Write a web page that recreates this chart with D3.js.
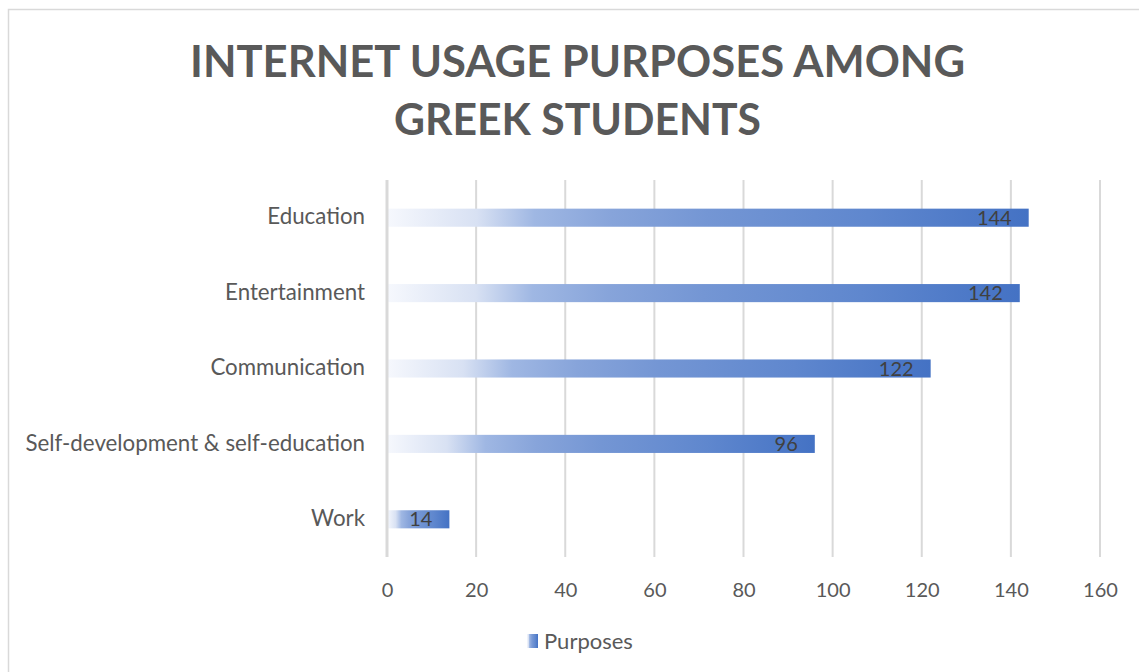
<!DOCTYPE html>
<html>
<head>
<meta charset="utf-8">
<script src="https://cdn.jsdelivr.net/npm/d3@7"></script>
<style>
  html, body { margin: 0; padding: 0; background: #fff; }
  svg { display: block; font-family: Lato, "Open Sans", sans-serif; }
</style>
</head>
<body>
<svg id="chart" width="1139" height="672"></svg>
<script>
// Chart data
const categories = ["Education", "Entertainment", "Communication", "Self-development & self-education", "Work"];
const values = [144, 142, 122, 96, 14];
const xTicks = [0, 20, 40, 60, 80, 100, 120, 140, 160];
const seriesName = "Purposes";
const titleLines = ["INTERNET USAGE PURPOSES AMONG", "GREEK STUDENTS"];

const W = 1139, H = 672;
const margin = { left: 387, right: 39, top: 180, bottom: 115 };
const titleWidths = [775, 367];

const svg = d3.select("#chart");

// Outer chart frame
svg.append("rect")
  .attr("x", 8.5).attr("y", 9.5)
  .attr("width", W + 20).attr("height", H + 20)
  .attr("fill", "#fff").attr("stroke", "#d9d9d9").attr("stroke-width", 1.5);

// Bar fill: pale on the left, full blue at the bar end
const defs = svg.append("defs");
const grad = defs.append("linearGradient")
  .attr("id", "barGrad").attr("x1", "0").attr("x2", "1").attr("y1", "0").attr("y2", "0");
[[0, "#f6f8fd"], [0.14, "#d8e1f3"], [0.23, "#9fb7e3"], [0.35, "#87a4da"],
 [0.5, "#7496d4"], [0.75, "#5f87ce"], [1, "#4472c4"]]
  .forEach(([o, c]) => grad.append("stop").attr("offset", o).attr("stop-color", c));

const x = d3.scaleLinear()
  .domain([xTicks[0], xTicks[xTicks.length - 1]])
  .range([margin.left, W - margin.right]);

const y = d3.scaleBand()
  .domain(categories)
  .range([margin.top, H - margin.bottom])
  .paddingInner(0.76).paddingOuter(0.38);

// Title
const title = svg.append("g");
titleLines.forEach((t, i) => {
  title.append("text")
    .attr("x", 577.5).attr("y", 77 + i * 58)
    .attr("text-anchor", "middle")
    .attr("font-size", 43).attr("font-weight", 700)
    .attr("fill", "#595959")
    .attr("textLength", titleWidths[i])
    .attr("lengthAdjust", "spacingAndGlyphs")
    .text(t);
});

// Vertical gridlines
svg.append("g").selectAll("line")
  .data(xTicks.slice(1))
  .join("line")
  .attr("x1", d => x(d)).attr("x2", d => x(d))
  .attr("y1", margin.top).attr("y2", H - margin.bottom)
  .attr("stroke", "#d9d9d9").attr("stroke-width", 2);

// Bars
svg.append("g").selectAll("rect")
  .data(categories)
  .join("rect")
  .attr("x", x(0))
  .attr("y", d => y(d))
  .attr("width", (d, i) => x(values[i]) - x(0))
  .attr("height", y.bandwidth())
  .attr("fill", "url(#barGrad)");

// Value axis line at zero
svg.append("line")
  .attr("x1", x(0)).attr("x2", x(0))
  .attr("y1", margin.top).attr("y2", H - margin.bottom)
  .attr("stroke", "#d9d9d9").attr("stroke-width", 3);

// Data labels, inside the bar end
svg.append("g").selectAll("text")
  .data(categories)
  .join("text")
  .attr("x", (d, i) => x(values[i]) - 17)
  .attr("y", d => y(d) + y.bandwidth() / 2 + 7)
  .attr("text-anchor", "end")
  .attr("font-size", 20)
  .attr("fill", "#404040")
  .text((d, i) => values[i]);

// Category axis
const yAxis = svg.append("g")
  .attr("transform", `translate(${x(0) - 22},0)`)
  .call(d3.axisLeft(y).tickSize(0).tickPadding(0));
yAxis.select(".domain").remove();
yAxis.selectAll("text")
  .attr("font-size", 22.3).attr("fill", "#595959")
  .attr("font-family", "Lato, 'Open Sans', sans-serif")
  .attr("dy", "0.3em");

// Value axis tick labels
const xAxis = svg.append("g")
  .attr("transform", `translate(0,${H - margin.bottom})`)
  .call(d3.axisBottom(x).tickValues(xTicks).tickSize(0).tickPadding(26));
xAxis.select(".domain").remove();
xAxis.selectAll("text")
  .attr("font-size", 20).attr("fill", "#595959")
  .attr("font-family", "Lato, 'Open Sans', sans-serif");

// Legend
const legend = svg.append("g").attr("transform", "translate(527,634)");
legend.append("rect")
  .attr("width", 11).attr("height", 14)
  .attr("fill", "url(#barGrad)");
legend.append("text")
  .attr("x", 17).attr("y", 15)
  .attr("font-size", 22).attr("fill", "#595959")
  .text(seriesName);
</script>
</body>
</html>
